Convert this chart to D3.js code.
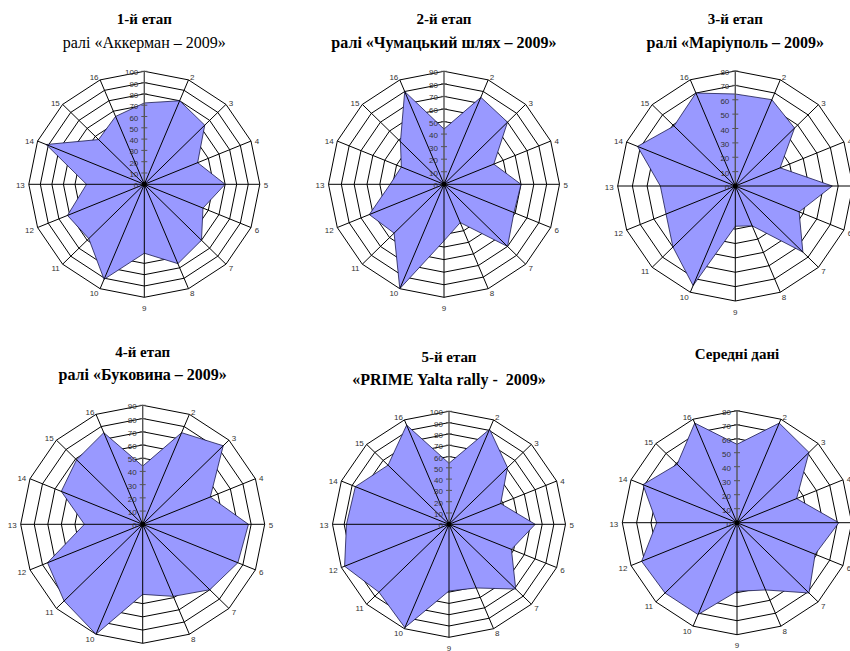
<!DOCTYPE html>
<html>
<head>
<meta charset="utf-8">
<script src="https://cdn.jsdelivr.net/npm/d3@7"></script>
<style>
  body { margin: 0; background: #fff; }
  text { white-space: pre; }
</style>
</head>
<body>
<div id="chart"></div>
<script>
// categories (16 axes), axis 1 is the top one and has no visible label
const axisLabels = d3.range(1, 17).map(String);

// values per stage
const stage1 = [72, 80, 74, 50, 70, 55, 70, 76, 61, 91, 68, 72, 50, 92, 56, 65];
const stage2 = [44, 75, 70, 42, 60, 59, 70, 33, 45, 90, 55, 63, 42, 36, 48, 80];
const stage3 = [64, 65, 57, 33, 66, 47, 65, 30, 28, 75, 60, 51, 51, 72, 59, 70];
const stage4 = [44, 75, 84, 54, 78, 76, 70, 59, 53, 90, 82, 76, 43, 65, 69, 75];
const stage5 = [54, 91, 71, 48, 74, 58, 81, 61, 59, 99, 85, 97, 88, 87, 74, 95];
const average = [56, 77, 71, 45, 71, 59, 71, 52, 49, 71, 71, 72, 56, 71, 59, 77];

// value axis maximum of each chart
const axisMax = [100, 90, 80, 90, 100, 80];

// titles
const titleLine1 = ["1-й етап", "2-й етап", "3-й етап", "4-й етап", "5-й етап", "Середні дані"];
const titleLine2 = ["ралі «Аккерман – 2009»", "ралі «Чумацький шлях – 2009»", "ралі «Маріуполь – 2009»",
                    "ралі «Буковина – 2009»", "«PRIME Yalta rally -  2009»", ""];

const seriesList = [stage1, stage2, stage3, stage4, stage5, average];

// layout of each panel (centre, radii, title baselines)
const panels = [
  { cx: 144.3, cy: 184.3, rx: 115.5, ry: 113, t1: 24, t2: 48, bold2: false },
  { cx: 444, cy: 184.3, rx: 115.5, ry: 113, t1: 24, t2: 48, bold2: true },
  { cx: 735.3, cy: 186, rx: 117.6, ry: 115, t1: 24, t2: 48, bold2: true },
  { cx: 142.7, cy: 524.3, rx: 122, ry: 119, t1: 357, t2: 380, bold2: true },
  { cx: 449, cy: 524.3, rx: 116.5, ry: 113, t1: 362, t2: 385, bold2: true },
  { cx: 737, cy: 522.7, rx: 114.7, ry: 112, t1: 359, t2: 0, bold2: true }
];

const width = 850, height = 651;

const svg = d3.select("#chart").append("svg")
  .attr("width", width)
  .attr("height", height);

panels.forEach((p, k) => {
  const values = seriesList[k];
  const max = axisMax[k];
  const n = values.length;
  const ang = d3.scaleLinear().domain([0, n]).range([0, 2 * Math.PI]);
  const sx = d3.scaleLinear().domain([0, max]).range([0, p.rx]);
  const sy = d3.scaleLinear().domain([0, max]).range([0, p.ry]);
  const pt = (i, v) => [sx(v) * Math.sin(ang(i)), -sy(v) * Math.cos(ang(i))];
  const line = d3.line();
  const ticks = d3.range(0, max + 1, 10);

  // titles
  const tg = svg.append("g").attr("font-family", "'Liberation Serif', 'Times New Roman', serif")
    .attr("text-anchor", "middle").attr("fill", "#000");
  tg.append("text").attr("x", p.cx).attr("y", p.t1).attr("font-size", 15)
    .attr("font-weight", "bold").text(titleLine1[k]);
  if (titleLine2[k]) {
    tg.append("text").attr("x", p.cx).attr("y", p.t2).attr("font-size", 16)
      .attr("font-weight", p.bold2 ? "bold" : "normal").text(titleLine2[k]);
  }

  const g = svg.append("g").attr("transform", `translate(${p.cx},${p.cy})`);

  // grid rings
  g.selectAll("path.ring").data(ticks.slice(1)).join("path")
    .attr("class", "ring")
    .attr("d", t => line(d3.range(n).map(i => pt(i, t))) + "Z")
    .attr("fill", "none").attr("stroke", "#000").attr("stroke-width", 1);

  // filled series
  g.append("path")
    .attr("d", line(values.map((v, i) => pt(i, v))) + "Z")
    .attr("fill", "#9999ff").attr("stroke", "#1a1a4d").attr("stroke-width", 0.8);

  // spokes
  g.selectAll("line.spoke").data(d3.range(n)).join("line")
    .attr("class", "spoke")
    .attr("x1", 0).attr("y1", 0)
    .attr("x2", i => pt(i, max)[0]).attr("y2", i => pt(i, max)[1])
    .attr("stroke", i => i === 0 ? "#555" : "#000")
    .attr("stroke-width", i => i === 0 ? 1.4 : 1);

  // tick marks on value axis
  g.selectAll("line.tick").data(ticks).join("line")
    .attr("class", "tick")
    .attr("x1", -3).attr("x2", 3)
    .attr("y1", t => -sy(t)).attr("y2", t => -sy(t))
    .attr("stroke", "#555").attr("stroke-width", 1);

  g.append("circle").attr("r", 2.5).attr("fill", "#000");

  // value labels
  g.selectAll("text.val").data(ticks).join("text")
    .attr("class", "val")
    .attr("x", -6).attr("y", t => -sy(t) + 1.5)
    .attr("dominant-baseline", "central")
    .attr("text-anchor", "end")
    .attr("font-family", "'Liberation Sans', Arial, sans-serif")
    .attr("font-size", 8).attr("fill", "#333")
    .text(d => d);

  // category labels
  g.selectAll("text.cat").data(d3.range(1, n)).join("text")
    .attr("class", "cat")
    .attr("x", i => pt(i, max)[0] + Math.sin(ang(i)) * 4)
    .attr("y", i => {
      const c = Math.cos(ang(i)), s = Math.sin(ang(i));
      if (Math.abs(s) < 0.3) return pt(i, max)[1] - c * 11;
      return pt(i, max)[1] - c * 4 + 1.5;
    })
    .attr("dominant-baseline", "central")
    .attr("text-anchor", i => {
      const s = Math.sin(ang(i));
      return s > 0.3 ? "start" : (s < -0.3 ? "end" : "middle");
    })
    .attr("font-family", "'Liberation Sans', Arial, sans-serif")
    .attr("font-size", 8).attr("fill", "#333")
    .text(i => axisLabels[i]);
});
</script>
</body>
</html>
